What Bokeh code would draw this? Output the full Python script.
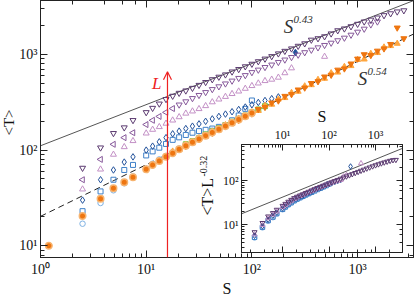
import math
from bokeh.plotting import figure
from bokeh.models import Range1d, LogAxis, Label, Arrow, OpenHead, CustomJSTickFormatter
from bokeh.embed import file_html
from bokeh.resources import INLINE

# ---------------- data ----------------
S_GRID = [1.2, 2.5, 3.7, 4.9, 6.2, 7.5, 10, 11.5, 13.3, 15.4, 17.8, 20.5, 23.7, 27.4,
          31.6, 36.5, 42.2, 48.7, 56.2, 64.9, 75, 86.6, 100, 115, 133, 154, 178, 205,
          237, 274, 316, 365, 422, 487, 562, 649, 750, 866, 1000, 1155, 1334, 1540,
          1778, 2054, 2371, 2738]

# main panel: <T> vs S, each series starts at the given index of S_GRID
T_ROW1 = [65, 106, 150, 172, 205, 248, 275, 305, 340, 368, 395, 418, 445, 478, 512, 548,
          582, 615, 660, 700, 748, 795, 845, 900, 955, 1020, 1085, 1150, 1225, 1300, 1420,
          1470, 1540, 1650, 1780, 1860, 1960, 2080, 2200, 2300, 2420, 2560, 2680, 2800, 2880]
START_ROW1 = 1
T_ROW2A = [49, 80, 115, 135, 152, 185, 205, 225, 248, 272]
START_ROW2A = 1
T_ROW2B = [298, 322, 348, 375, 402, 432, 462, 495, 530, 565, 605, 650, 690, 735, 780, 830,
           880, 935, 990, 1050, 1115, 1180, 1250, 1320, 1400, 1490, 1600, 1720, 1850, 2050, 2200]
START_ROW2B = 11
T_ROW3 = [39, 63, 90, 108, 125, 150, 164, 175, 190, 205, 222, 242, 255, 270, 290, 318, 340,
          362, 388, 412, 440, 470, 500, 530, 548, 575, 640, 720]
START_ROW3 = 1
S_ROW3_EXTRA = [487]
T_ROW3_EXTRA = [950]
T_ROW4 = [30, 49, 62, 75, 85, 100, 110, 122, 135, 148, 158, 168, 178, 188, 200, 212, 225,
          238, 252, 266, 282, 298, 315, 330, 345, 360]
START_ROW4 = 1
S_ROW4_EXTRA = [258]
T_ROW4_EXTRA = [1050]
T_ROW5 = [23, 37, 49, 62, 70, 88, 97, 106, 116, 128, 136, 144, 152, 158, 163, 168, 175,
          182, 205, 230, 270, 330]
START_ROW5 = 1
T_ROW6 = [17, 28, 38, 45, 53, 64, 72, 80, 87, 95, 104, 113, 122, 132, 145, 160]
START_ROW6 = 1
T_ORANGE_CIRCLE = [10, 20.5, 31, 40, 46, 52, 63, 70, 77, 85, 93, 102, 111, 121, 131, 141,
                   153, 165, 179, 193, 209, 226, 244]
START_ORANGE_CIRCLE = 0
T_GREEN = [115, 124, 133, 146, 157, 170, 183, 198, 212, 230, 248, 266, 288]
START_GREEN = 12
T_ORANGE_UP = [97, 101, 114, 119, 134, 139, 156, 162, 183, 190, 214, 221, 250, 258, 292,
               300, 340, 352, 398, 410, 466, 480, 545, 560, 640, 650, 745, 760, 880, 890,
               1020, 1040, 1190, 1230, 1300]
START_ORANGE_UP = 10
T_ORANGE_DOWN = [110, 123, 129, 144, 151, 168, 176, 197, 206, 230, 240, 268, 281, 313, 328,
                 367, 383, 428, 448, 500, 522, 585, 610, 690, 710, 800, 900, 1000, 980, 1090,
                 1150, 1280, 1900, 1470]
START_ORANGE_DOWN = 12

# inset: <T> L^-0.32 vs S
Y_IN_ROW1 = [6.8, 11, 15.5, 18.5, 22, 27, 30, 33.5, 37, 40.5, 43.5, 46.5, 49.5, 53, 56.5,
             60.5, 64.5, 68.5, 73, 77.5, 82.5, 87.5, 93, 99, 105, 112, 119, 126, 134, 142,
             151, 160, 170, 180, 191, 202, 214, 226, 238, 250, 262, 274, 286, 296, 300]
START_IN_ROW1 = 1
Y_IN_ROW3 = [6.0, 9.8, 14, 17, 20, 25, 28, 31.5, 35, 38.5, 41.5, 45, 48, 51.5, 55, 59, 63,
             67, 71.5, 76, 81, 86, 91, 96, 100, 104, 125, 135]
START_IN_ROW3 = 1
S_IN_ROW3_EXTRA = [487]
Y_IN_ROW3_EXTRA = [250]
Y_IN_ROW4 = [5.6, 9.2, 13, 16, 19, 23.5, 26.5, 30, 33.5, 37, 40, 43, 46, 49.5, 53, 57, 61,
             65, 69.5, 74, 79, 84, 89, 94, 99, 104]
START_IN_ROW4 = 1
S_IN_ROW4_EXTRA = [290]
Y_IN_ROW4_EXTRA = [212]
Y_IN_ROW5 = [5.2, 8.8, 12.5, 15, 18, 22.5, 25.5, 29, 32, 35.5, 38.5, 41.5, 44.5, 48, 51.5,
             55, 59, 63.5, 68, 73, 78, 85]
START_IN_ROW5 = 1
Y_IN_ROW6 = [5.0, 8.5, 12, 14.5, 17.5, 22, 25, 28, 31, 34.5, 37.5, 40.5, 43.5, 47, 50.5, 54]
START_IN_ROW6 = 1

# power-law guide lines  T = A * S^E
FIT_UPPER = (111.0, 0.43)
FIT_LOWER = (20.3, 0.54)
FIT_INSET = (15.8, 0.43)
ARROW_S = 15.9
ARROW_T_TOP = 660

FONT = "Liberation Serif"
RED = "#ee2222"
INK = "#111111"

C_ROW1 = "#5b3a70"
C_ROW2 = "#86589a"
C_ROW3 = "#c390c6"
C_ROW4 = "#23529b"
C_ROW5 = "#3f80c8"
C_ROW6 = "#7fb2e3"
C_OR_DARK = "#ee7510"
C_OR_LIGHT = "#ffa63f"
C_GREEN = "#74c63e"

POW10_JS = """
const e = Math.round(Math.log10(tick));
const m = {"0": "\\u2070", "1": "\\u00b9", "2": "\\u00b2", "3": "\\u00b3",
           "4": "\\u2074", "5": "\\u2075", "-": "\\u207b"};
return "10" + String(e).split("").map(c => m[c]).join("");
"""


def xs_of(start, vals):
    return S_GRID[start:start + len(vals)]


def style_axis(ax, maj=7, mnr=4, labels=False, font_size="14px", standoff=4):
    ax.major_tick_in = maj
    ax.major_tick_out = 0
    ax.minor_tick_in = mnr
    ax.minor_tick_out = 0
    ax.axis_line_color = "#222222"
    ax.major_tick_line_color = "#222222"
    ax.minor_tick_line_color = "#222222"
    if labels:
        ax.formatter = CustomJSTickFormatter(code=POW10_JS)
        ax.major_label_text_font = FONT
        ax.major_label_text_font_size = font_size
        ax.major_label_text_color = INK
        ax.major_label_standoff = standoff
    else:
        ax.formatter = CustomJSTickFormatter(code="return '';")
        ax.major_label_text_font_size = "1px"
        ax.major_label_standoff = 0


def sc(fig, xs, ys, marker, color, size=5.5, fill=None, angle=0.0, lw=1.0):
    fig.scatter(xs, ys, marker=marker, size=size, line_color=color, line_width=lw,
                fill_color=fill, angle=angle)


def lab(fig, text, x, y, size="14px", align="left", base="alphabetic", xo=0, yo=0,
        style="normal", color=INK, angle=0.0):
    fig.add_layout(Label(x=x, y=y, x_offset=xo, y_offset=yo, text=text, text_font=FONT,
                         text_font_size=size, text_font_style=style, text_color=color,
                         text_align=align, text_baseline=base, angle=angle))


# ---------------- main figure ----------------
W, H = 415, 299
XR = (1.0, 3380.0)
YR = (7.54, 3665.0)
p = figure(width=W, height=H, x_axis_type="log", y_axis_type="log",
           x_range=Range1d(*XR), y_range=Range1d(*YR),
           output_backend="svg", toolbar_location=None,
           min_border_left=40, min_border_right=2, min_border_top=0, min_border_bottom=37)
p.grid.visible = False
p.outline_line_color = "#222222"
p.background_fill_color = "white"
style_axis(p.xaxis[0], labels=True, font_size="14px", standoff=4)
style_axis(p.yaxis[0], labels=True, font_size="14px", standoff=3)
p.xaxis[0].axis_label = "S"
p.xaxis[0].axis_label_text_font = FONT
p.xaxis[0].axis_label_text_font_size = "16px"
p.xaxis[0].axis_label_text_font_style = "normal"
p.xaxis[0].axis_label_text_color = INK
p.xaxis[0].axis_label_standoff = 0
ax_top = LogAxis()
ax_right = LogAxis()
style_axis(ax_top)
style_axis(ax_right)
p.add_layout(ax_top, "above")
p.add_layout(ax_right, "right")

for (A, E), dash, col in ((FIT_UPPER, "solid", "#555555"), (FIT_LOWER, "6 4", "#222222")):
    xl = [XR[0], XR[1]]
    p.line(xl, [A * x ** E for x in xl], line_color=col, line_width=1, line_dash=dash)

sc(p, xs_of(START_ROW6, T_ROW6), T_ROW6, "circle", C_ROW6)
sc(p, xs_of(START_ROW5, T_ROW5), T_ROW5, "square", C_ROW5, size=5)
sc(p, xs_of(START_ROW4, T_ROW4), T_ROW4, "diamond", C_ROW4, size=6.5)
sc(p, S_ROW4_EXTRA, T_ROW4_EXTRA, "diamond", C_ROW4, size=6.5, fill=C_ROW4)
sc(p, xs_of(START_ROW3, T_ROW3), T_ROW3, "triangle", C_ROW3, size=6)
sc(p, S_ROW3_EXTRA, T_ROW3_EXTRA, "triangle", C_ROW3, size=6)
sc(p, xs_of(START_ROW2A, T_ROW2A), T_ROW2A, "triangle", C_ROW2, size=6, angle=math.pi / 2)
sc(p, xs_of(START_ROW2B, T_ROW2B), T_ROW2B, "inverted_triangle", C_ROW2, size=6)
sc(p, xs_of(START_ROW1, T_ROW1), T_ROW1, "inverted_triangle", C_ROW1, size=6)
sc(p, xs_of(START_GREEN, T_GREEN), T_GREEN, "square", C_GREEN, size=5, fill=C_GREEN)
sc(p, xs_of(START_ORANGE_UP, T_ORANGE_UP), T_ORANGE_UP, "triangle", C_OR_LIGHT, size=6, fill=C_OR_LIGHT)
sc(p, xs_of(START_ORANGE_DOWN, T_ORANGE_DOWN), T_ORANGE_DOWN, "inverted_triangle", C_OR_DARK, size=6, fill=C_OR_DARK)
sc(p, xs_of(START_ORANGE_CIRCLE, T_ORANGE_CIRCLE), T_ORANGE_CIRCLE, "circle", "#f7b36e",
   size=6.5, fill=C_OR_DARK, lw=1.5)

p.add_layout(Arrow(end=OpenHead(size=8, line_color=RED, line_width=1.2),
                   x_start=ARROW_S, y_start=YR[0], x_end=ARROW_S, y_end=ARROW_T_TOP,
                   line_color=RED, line_width=1.2))
lab(p, "L", 12.6, 500, "17px", "center", "middle", style="italic", color=RED)

for sx, ty, expo in ((222, 1940, "0.43"), (1112, 555, "0.54")):
    lab(p, "S", sx, ty, "19px", "center", "middle", style="italic", color="#333333")
    lab(p, expo, sx, ty, "11px", "left", "middle", xo=5, yo=7, style="italic", color="#333333")

# ---------------- inset figure (absolutely placed over the main one) ----------------
QX, QY, QW, QH = 198, 104, 206, 150
IXR = (1.31, 3800.0)
IYR = (2.34, 670.0)
q = figure(width=QW, height=QH, x_axis_type="log", y_axis_type="log",
           x_range=Range1d(*IXR), y_range=Range1d(*IYR), x_axis_location="above",
           output_backend="svg", toolbar_location=None,
           min_border_left=43, min_border_right=2, min_border_top=35, min_border_bottom=2)
q.grid.visible = False
q.outline_line_color = "#222222"
q.background_fill_color = "white"
q.border_fill_alpha = 0.0
style_axis(q.xaxis[0], 6, 3, labels=True, font_size="12px", standoff=3)
style_axis(q.yaxis[0], 6, 3, labels=True, font_size="12px", standoff=3)
q.xaxis[0].axis_label = "S"
q.xaxis[0].axis_label_text_font = FONT
q.xaxis[0].axis_label_text_font_size = "16px"
q.xaxis[0].axis_label_text_font_style = "normal"
q.xaxis[0].axis_label_text_color = INK
q.xaxis[0].axis_label_standoff = 0
qb = LogAxis()
qr = LogAxis()
style_axis(qb, 6, 3)
style_axis(qr, 6, 3)
q.add_layout(qb, "below")
q.add_layout(qr, "right")
q.styles = {"position": "absolute", "left": f"{QX}px", "top": f"{QY}px", "z-index": "5"}

A, E = FIT_INSET
q.line([IXR[0], IXR[1]], [A * IXR[0] ** E, A * IXR[1] ** E], line_color="#555555", line_width=1)

sc(q, xs_of(START_IN_ROW6, Y_IN_ROW6), Y_IN_ROW6, "circle", C_ROW6, size=4.5)
sc(q, xs_of(START_IN_ROW5, Y_IN_ROW5), Y_IN_ROW5, "square", C_ROW5, size=4.5)
sc(q, xs_of(START_IN_ROW4, Y_IN_ROW4), Y_IN_ROW4, "diamond", C_ROW4, size=5.5)
sc(q, S_IN_ROW4_EXTRA, Y_IN_ROW4_EXTRA, "diamond", C_ROW4, size=5.5)
sc(q, xs_of(START_IN_ROW3, Y_IN_ROW3), Y_IN_ROW3, "triangle", C_ROW3, size=5)
sc(q, S_IN_ROW3_EXTRA, Y_IN_ROW3_EXTRA, "triangle", C_ROW3, size=5)
sc(q, xs_of(START_IN_ROW1, Y_IN_ROW1), Y_IN_ROW1, "inverted_triangle", C_ROW1, size=5)

# ---------------- text overlay for the y labels (page pixel coordinates) ----------------
o = figure(width=W, height=H, x_range=Range1d(0, W), y_range=Range1d(H, 0),
           output_backend="svg", toolbar_location=None, min_border=0,
           x_axis_location=None, y_axis_location=None)
o.grid.visible = False
o.outline_line_color = None
o.background_fill_alpha = 0.0
o.border_fill_alpha = 0.0
o.styles = {"position": "absolute", "left": "0px", "top": "0px", "z-index": "10",
            "pointer-events": "none"}
lab(o, "<T>", 8, 122, "15px", "center", "middle", angle=math.pi / 2)
lab(o, "<T>L", 207, 215, "16px", "left", "middle", angle=math.pi / 2)
lab(o, "-0.32", 202.5, 176, "10px", "left", "middle", angle=math.pi / 2)

open("out.html", "w").write(file_html([p, q, o], INLINE))
